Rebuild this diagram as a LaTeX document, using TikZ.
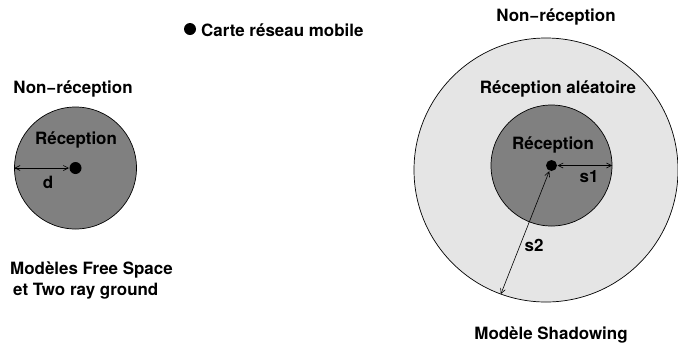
\documentclass[tikz,border=0pt]{standalone}
\usepackage{fontspec}
\setmainfont{TeX Gyre Heros}
\usetikzlibrary{arrows.meta}
\begin{document}
\begin{tikzpicture}[x=1bp,y=-1bp,
  lbl/.style={font=\fontsize{17}{20.5}\selectfont\bfseries, inner sep=0pt},
  zone/.style={circle, draw=black, line width=0.7pt, inner sep=0pt},
  emitter/.style={circle, fill=black, inner sep=0pt, minimum size=12bp},
  radius/.style={line width=0.6pt, {Straight Barb[length=5bp,width=5bp]}-{Straight Barb[length=5bp,width=5bp]}, shorten <=0.3pt, shorten >=0.3pt}]
\useasboundingbox (0,0) rectangle (678,345);

% legend
\node[emitter, minimum size=12bp] (legdot) at (190,29) {};
\node[lbl, anchor=west] (legtxt) at (201,30) {Carte réseau mobile};

% Free Space / Two ray ground: single range
\node[zone, fill=black!50, minimum size=122bp] (lin) at (75.5,168) {};
\node[emitter] (ldot) at (75.5,168) {};
\node[lbl] (lnon) at (73,89) {Non−réception};
\node[lbl] (lrec) at (76,140) {Réception};
\draw[radius] (lin.west) -- (ldot);
\node[lbl] (ld) at (48,182) {d};
\node[lbl, anchor=north west, align=left] (lmod) at (10,262)
  {Modèles Free Space\\\hspace*{3bp}et Two ray ground};

% Shadowing: certain and random reception zones
\node[zone, fill=black!10, minimum size=264bp] (rout) at (546,170) {};
\node[zone, fill=black!50, minimum size=121bp] (rin) at (551.5,165.5) {};
\node[emitter, minimum size=11bp] (rdot) at (551.5,165.5) {};
\node[lbl] (rnon) at (556,17) {Non−réception};
\node[lbl] (ralea) at (558,89) {Réception aléatoire};
\node[lbl] (rrec) at (553,145) {Réception};
\draw[radius] (rdot) -- (rin.east);
\node[lbl] (rs1) at (589,177) {s1};
\draw[radius] (rdot) -- (rout.250);
\node[lbl] (rs2) at (534,245) {s2};
\node[lbl] (rmod) at (551,335) {Modèle Shadowing};
\end{tikzpicture}
\end{document}
